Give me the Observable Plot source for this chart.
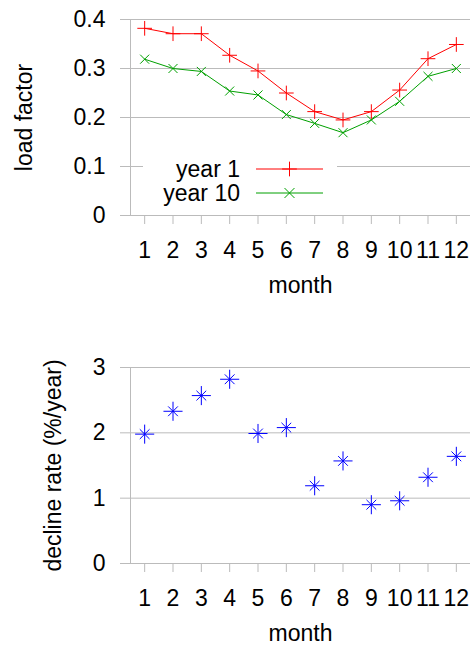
<!DOCTYPE html>
<html>
<head>
<meta charset="utf-8">
<script src="https://cdn.jsdelivr.net/npm/d3@7"></script>
<script src="https://cdn.jsdelivr.net/npm/@observablehq/plot@0.6"></script>
<style>
  html, body { margin: 0; padding: 0; background: #fff; }
  #chart svg { display: block; }
</style>
</head>
<body>
<div id="chart"></div>
<script>
// ---- data ----
const months = [1, 2, 3, 4, 5, 6, 7, 8, 9, 10, 11, 12];
const monthLabels = ["1", "2", "3", "4", "5", "6", "7", "8", "9", "10", "11", "12"];
const year1 = [0.382, 0.371, 0.371, 0.327, 0.295, 0.250, 0.212, 0.195, 0.212, 0.256, 0.320, 0.349];
const year10 = [0.319, 0.300, 0.294, 0.254, 0.246, 0.206, 0.188, 0.169, 0.195, 0.233, 0.284, 0.300];
const declineRate = [1.98, 2.33, 2.57, 2.82, 1.99, 2.08, 1.19, 1.57, 0.90, 0.96, 1.32, 1.64];
const seriesNames = ["year 1", "year 10"];
const loadTicks = [0, 0.1, 0.2, 0.3, 0.4];
const loadTickLabels = ["0", "0.1", "0.2", "0.3", "0.4"];
const rateTicks = [0, 1, 2, 3];
const rateTickLabels = ["0", "1", "2", "3"];
const xLabel = "month";
const yLabelTop = "load factor";
const yLabelBottom = "decline rate (%/year)";

// ---- style ----
const FONT = "'Liberation Sans', Arial, Helvetica, sans-serif";
const FS = 23;
const GRID = "#bbbbbb";
const RED = "#ff0000";
const GREEN = "#00a000";
const BLUE = "#0000ff";

const load1 = months.map((m, i) => ({month: m, value: year1[i]}));
const load10 = months.map((m, i) => ({month: m, value: year10[i]}));
const rate = months.map((m, i) => ({month: m, value: declineRate[i]}));

function commonMarks(yTicks, yTickLabels, yLabel, yLabelDx) {
  return [
    Plot.gridY(yTicks, {stroke: GRID, strokeOpacity: 1, strokeWidth: 1}),
    Plot.axisY(yTicks, {tickSize: 10, tickPadding: 15, stroke: GRID, fill: "black",
      tickFormat: (d) => yTickLabels[yTicks.indexOf(d)], label: null}),
    Plot.axisX(months, {tickSize: 9, tickPadding: 17, stroke: GRID, fill: "black",
      tickFormat: d => monthLabels[months.indexOf(d)], label: null}),
    Plot.frame({anchor: "left", stroke: GRID, strokeOpacity: 1}),
    Plot.text([xLabel], {frameAnchor: "bottom", dy: 70, lineAnchor: "middle", textAnchor: "middle", fill: "black", fontSize: FS}),
    Plot.text([yLabel], {frameAnchor: "left", dx: yLabelDx, rotate: -90, textAnchor: "middle", lineAnchor: "middle", fill: "black", fontSize: FS})
  ];
}

const topChart = Plot.plot({
  width: 475, height: 310,
  marginLeft: 130, marginRight: 5, marginTop: 19, marginBottom: 95,
  style: {fontFamily: FONT, fontSize: FS + "px", color: "black", background: "white", overflow: "visible"},
  x: {domain: [0.5, 12.5]},
  y: {domain: [0, 0.4]},
  marks: [
    ...commonMarks(loadTicks, loadTickLabels, yLabelTop, -106),
    Plot.line(load1, {x: "month", y: "value", stroke: RED, strokeWidth: 1}),
    Plot.dot(load1, {x: "month", y: "value", symbol: "plus", stroke: RED, strokeWidth: 1, r: 4.8}),
    Plot.line(load10, {x: "month", y: "value", stroke: GREEN, strokeWidth: 1}),
    Plot.dot(load10, {x: "month", y: "value", symbol: "times", stroke: GREEN, strokeWidth: 1, r: 4.17})
  ]
});

// legend (layout only)
{
  const svg = d3.select(topChart);
  const g = svg.append("g").attr("font-family", FONT).attr("font-size", FS);
  g.append("rect").attr("x", 143).attr("y", 156).attr("width", 194).attr("height", 50).attr("fill", "white");
  const rows = [
    {name: seriesNames[0], color: RED, sym: d3.symbolPlus, size: Math.PI * 4.8 * 4.8, y: 169},
    {name: seriesNames[1], color: GREEN, sym: d3.symbolTimes, size: Math.PI * 4.6 * 4.6, y: 193}
  ];
  for (const r of rows) {
    g.append("text").attr("x", 240).attr("y", r.y).attr("dy", "0.35em")
      .attr("text-anchor", "end").attr("fill", "black").text(r.name);
    g.append("line").attr("x1", 256).attr("x2", 323).attr("y1", r.y).attr("y2", r.y)
      .attr("stroke", r.color).attr("stroke-width", 1);
    g.append("path").attr("transform", `translate(289.5,${r.y})`)
      .attr("d", d3.symbol(r.sym, r.size)()).attr("fill", "none").attr("stroke", r.color).attr("stroke-width", 1);
  }
}

const bottomChart = Plot.plot({
  width: 475, height: 335,
  marginLeft: 130, marginRight: 5, marginTop: 57, marginBottom: 82,
  style: {fontFamily: FONT, fontSize: FS + "px", color: "black", background: "white", overflow: "visible"},
  x: {domain: [0.5, 12.5]},
  y: {domain: [0, 3]},
  marks: [
    ...commonMarks(rateTicks, rateTickLabels, yLabelBottom, -77),
    Plot.dot(rate, {x: "month", y: "value", symbol: "plus", stroke: BLUE, strokeWidth: 1, r: 6.2}),
    Plot.dot(rate, {x: "month", y: "value", symbol: "times", stroke: BLUE, strokeWidth: 1, r: 4.5})
  ]
});

document.getElementById("chart").append(topChart, bottomChart);
</script>
</body>
</html>
